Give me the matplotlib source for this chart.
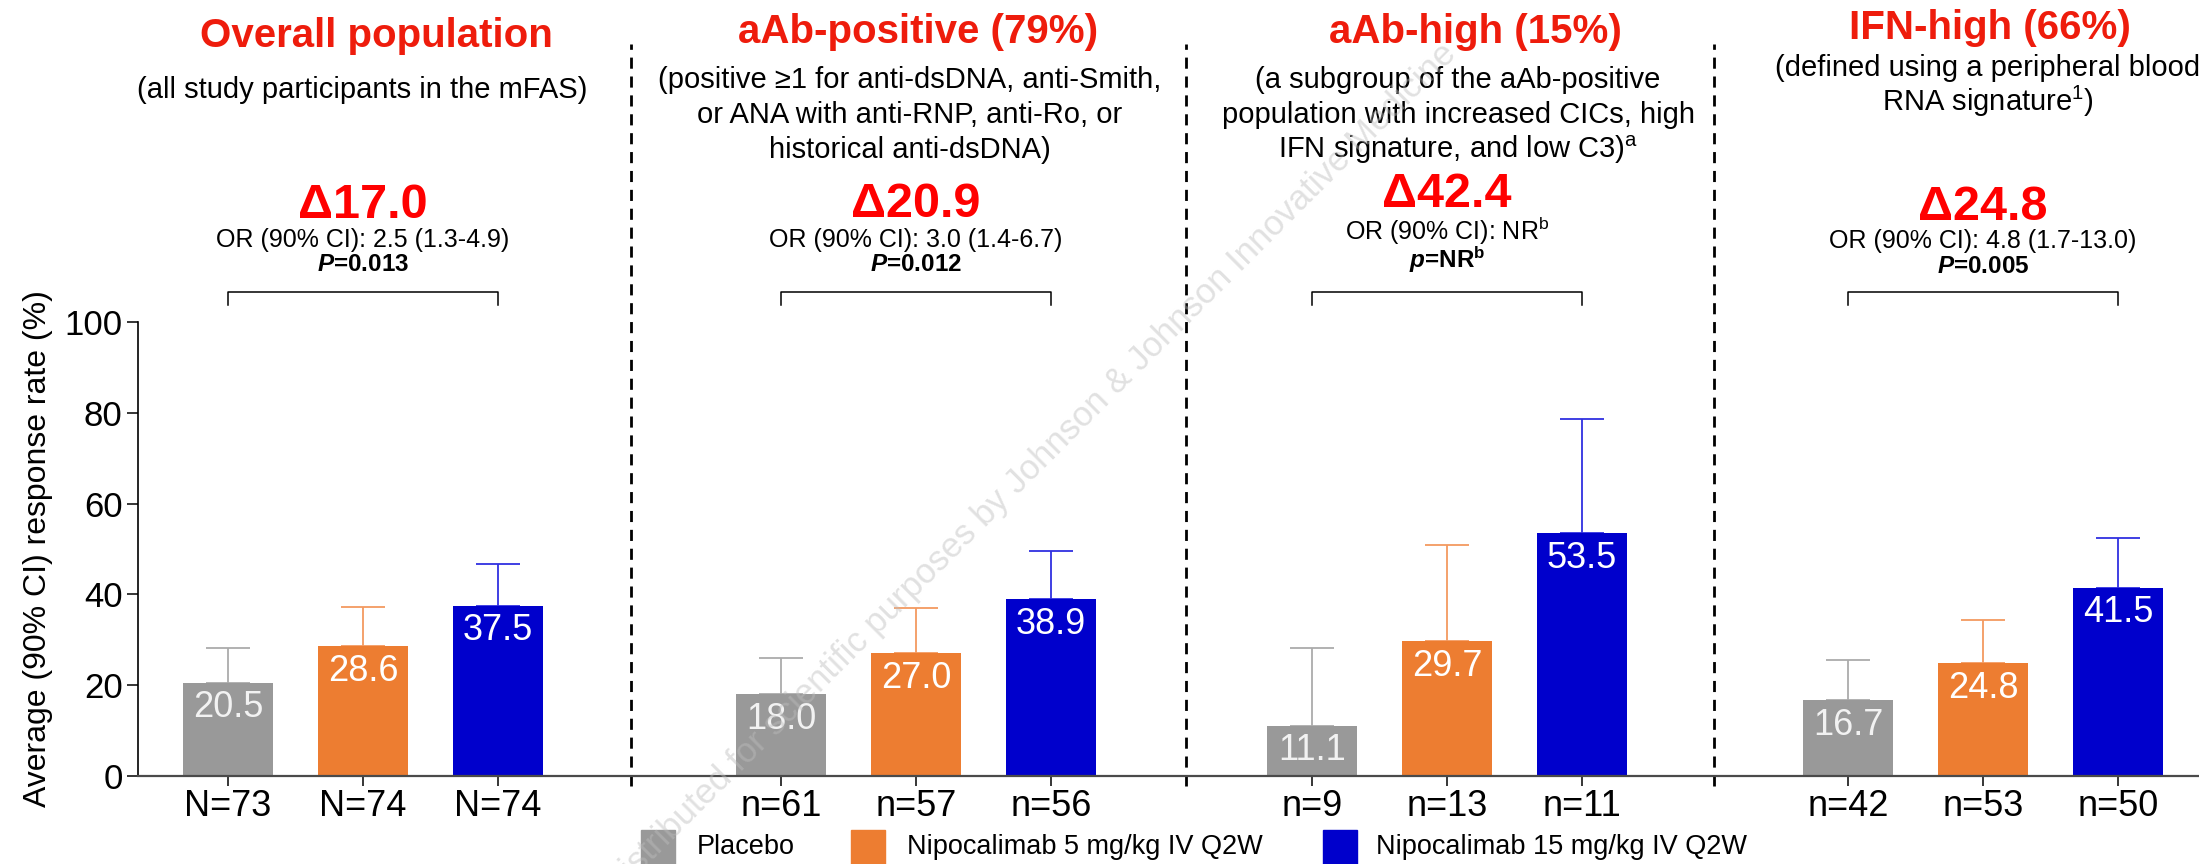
import matplotlib
matplotlib.use("Agg")
import matplotlib.pyplot as plt
from matplotlib.patches import Rectangle
from matplotlib.transforms import blended_transform_factory
import numpy as np

plt.rcParams['font.family'] = ['Liberation Sans', 'DejaVu Sans']
plt.rcParams['mathtext.fontset'] = 'custom'
plt.rcParams['mathtext.rm'] = 'Liberation Sans'
plt.rcParams['mathtext.it'] = 'Liberation Sans:italic'
plt.rcParams['mathtext.bf'] = 'Liberation Sans:bold'
plt.rcParams['mathtext.bfit'] = 'Liberation Sans:bold:italic'

# ---------------- data ----------------
groups = ["Overall population", "aAb-positive (79%)", "aAb-high (15%)", "IFN-high (66%)"]
treatments = ["Placebo", "Nipocalimab 5 mg/kg IV Q2W", "Nipocalimab 15 mg/kg IV Q2W"]

placebo = [20.5, 18.0, 11.1, 16.7]
nipo5 = [28.6, 27.0, 29.7, 24.8]
nipo15 = [37.5, 38.9, 53.5, 41.5]

# upper 90% CI limits
placebo_upper = [28.2, 26.0, 28.2, 25.6]
nipo5_upper = [37.2, 36.9, 50.8, 34.4]
nipo15_upper = [46.7, 49.6, 78.7, 52.5]

n_labels = [["N=73", "N=74", "N=74"],
            ["n=61", "n=57", "n=56"],
            ["n=9", "n=13", "n=11"],
            ["n=42", "n=53", "n=50"]]

subtitles = [
    ["(all study participants in the mFAS)"],
    ["(positive \u22651 for anti-dsDNA, anti-Smith,",
     "or ANA with anti-RNP, anti-Ro, or",
     "historical anti-dsDNA)"],
    ["(a subgroup of the aAb-positive",
     "population with increased CICs, high",
     "IFN signature, and low C3)$^{\\mathrm{a}}$"],
    ["(defined using a peripheral blood",
     "RNA signature$^{\\mathrm{1}}$)"],
]
deltas = ["\u039417.0", "\u039420.9", "\u039442.4", "\u039424.8"]
odds_ratios = ["OR (90% CI): 2.5 (1.3-4.9)",
               "OR (90% CI): 3.0 (1.4-6.7)",
               "OR (90% CI): NR$^{\\mathrm{b}}$",
               "OR (90% CI): 4.8 (1.7-13.0)"]
p_values = [r"$\mathbfit{P}$=0.013",
            r"$\mathbfit{P}$=0.012",
            r"$\mathbfit{p}$=NR$^{\mathbf{b}}$",
            r"$\mathbfit{P}$=0.005"]
watermark = "Distributed for scientific purposes by Johnson & Johnson Innovative Medicine"

# ---------------- styling ----------------
bar_colors = ["#999999", "#ED7D31", "#0000CC"]
err_colors = ["#ababab", "#f39a60", "#3030e0"]
label_colors = ["#f2f2f2", "white", "white"]
title_red = "#EE1C0C"
delta_red = "#FF0000"

W, H = 2199, 864
fig = plt.figure(figsize=(W / 100, H / 100), dpi=100)

ax_left, ax_bottom_px, ax_top_px = 138, 776, 322
ax = fig.add_axes([ax_left / W, (H - ax_bottom_px) / H,
                   (W - ax_left) / W, (ax_bottom_px - ax_top_px) / H])

unit_px = 135.0
ax.set_xlim(0, (W - ax_left) / unit_px)
ax.set_ylim(0, 100)

group_start = [0.667, 4.763, 8.696, 12.667]
separators = [3.652, 7.763, 11.674]
bar_width = 0.667

series = [(placebo, placebo_upper), (nipo5, nipo5_upper), (nipo15, nipo15_upper)]
tick_pos, tick_lab = [], []
for i, (vals, upper) in enumerate(series):
    x = np.array(group_start) + i
    vals = np.array(vals)
    upper = np.array(upper)
    ax.bar(x, vals, width=bar_width, color=bar_colors[i], zorder=2)
    ax.errorbar(x, vals, yerr=[np.zeros_like(vals), upper - vals], fmt='none',
                ecolor=err_colors[i], elinewidth=1.3, capsize=15.5, capthick=1.3,
                zorder=1)
    for xi, v in zip(x, vals):
        ax.annotate(f"{v:.1f}", (xi, v), xytext=(0, -18), textcoords='offset points',
                    ha='center', va='center', color=label_colors[i], fontsize=26,
                    zorder=3)
    for g, xi in enumerate(x):
        tick_pos.append(xi)
        tick_lab.append(n_labels[g][i])

order = np.argsort(tick_pos)
ax.set_xticks(np.array(tick_pos)[order])
ax.set_xticklabels(np.array(tick_lab)[order])
ax.set_yticks(np.arange(0, 101, 20))

ax.tick_params(axis='x', length=7.5, width=1.1, color='black', labelsize=26, pad=2)
ax.tick_params(axis='y', length=8, width=1.1, color='black', labelsize=25, pad=3)
for s in ('top', 'right'):
    ax.spines[s].set_visible(False)
ax.spines['left'].set_color('black')
ax.spines['left'].set_linewidth(1.2)
ax.spines['bottom'].set_color('#4a4a4a')
ax.spines['bottom'].set_linewidth(1.6)

ax.set_ylabel("Average (90% CI) response rate (%)", fontsize=23)
ax.yaxis.set_label_coords(-0.041, 0.5)

# group separators
y_top = (ax_bottom_px - 44) / 4.54
for sx in separators:
    ax.plot([sx, sx], [-2.2, y_top], color='black', lw=2.0, ls=(0, (4, 2.8)),
            clip_on=False, zorder=0)

# comparison brackets (placebo vs 15 mg/kg)
for g in group_start:
    ax.plot([g, g, g + 2, g + 2], [103.8, 106.6, 106.6, 103.8], color='black',
            lw=1.1, clip_on=False)

# statistics above each group
btr = blended_transform_factory(ax.transData, fig.transFigure)
delta_base = [218, 217, 207, 220]
or_base = [247, 247, 240, 248]
p_base = [271, 271, 268, 273]
for gi, g in enumerate(group_start):
    xc = g + 1
    ax.text(xc, 1 - delta_base[gi] / H, deltas[gi], transform=btr, ha='center',
            va='baseline', fontsize=35, fontweight='bold', color=delta_red)
    ax.text(xc, 1 - or_base[gi] / H, odds_ratios[gi], transform=btr, ha='center',
            va='baseline', fontsize=18, color='black')
    ax.text(xc, 1 - p_base[gi] / H, p_values[gi], transform=btr, ha='center',
            va='baseline', fontsize=17.5, fontweight='bold', color='black')

# group headings and definitions
title_x = [376, 918, 1475, 1990]
title_base = [47, 43, 43, 39]
sub_x = [362, 910, 1458, 1988]
sub_base = [[98], [88, 123, 158], [88, 123, 158], [76, 111]]
for gi, name in enumerate(groups):
    fig.text(title_x[gi] / W, 1 - title_base[gi] / H, name, ha='center',
             va='baseline', fontsize=29, fontweight='bold', color=title_red)
    for line, yb in zip(subtitles[gi], sub_base[gi]):
        fig.text(sub_x[gi] / W, 1 - yb / H, line, ha='center', va='baseline',
                 fontsize=21, color='black')

# legend along the bottom edge
leg_sq_x = [641, 851, 1323]
leg_txt_x = [697, 907, 1376]
sq = 34
for i, name in enumerate(treatments):
    fig.add_artist(Rectangle((leg_sq_x[i] / W, (H - 864) / H), sq / W, sq / H,
                             transform=fig.transFigure, color=bar_colors[i],
                             clip_on=False))
    fig.text(leg_txt_x[i] / W, 1 - 847 / H, name, ha='left', va='center',
             fontsize=19.5, color='black')

fig.text(1030 / W, 1 - 470 / H, watermark, rotation=45, ha='center', va='center',
         rotation_mode='anchor', fontsize=25, color='#bdbdbd', alpha=0.45, zorder=10)

fig.savefig("out.png", dpi=100)
